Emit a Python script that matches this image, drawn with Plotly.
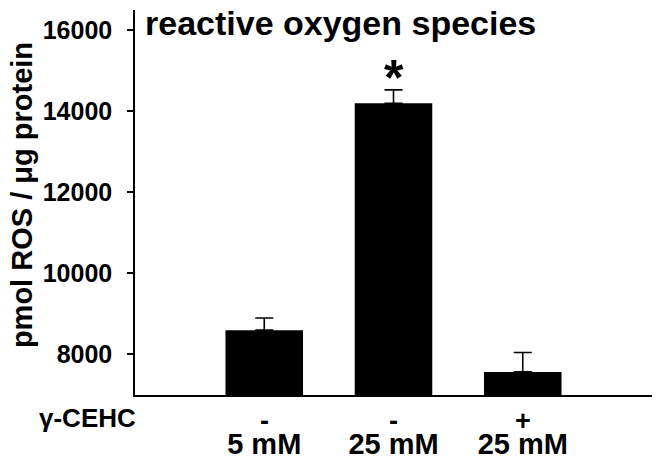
import plotly.graph_objects as go

conditions = ["5 mM", "25 mM", "25 mM"]
cehc = ["-", "-", "+"]
ros_mean = [8600, 14200, 7570]
ros_err = [300, 330, 480]
significance = ["", "*", ""]

xpos = list(range(len(conditions)))
FONT = "Liberation Sans, Arial, sans-serif"

fig = go.Figure()
fig.add_trace(go.Bar(
    x=xpos, y=ros_mean, base=0, width=0.6,
    marker=dict(color="black", line=dict(width=0)),
    error_y=dict(type="data", array=ros_err, arrayminus=[0]*len(ros_err),
                 symmetric=False, color="black", thickness=1.6, width=9),
    showlegend=False, hoverinfo="skip",
))

fig.update_layout(
    width=660, height=468,
    margin=dict(l=135, r=8, t=10, b=73),
    plot_bgcolor="white", paper_bgcolor="white",
    font=dict(family=FONT, color="black"),
    bargap=0.4,
)
fig.update_xaxes(
    range=[-1, 3], tickvals=xpos, ticktext=[f"<b>{c}</b>" for c in conditions],
    tickfont=dict(size=29, family=FONT), ticks="", showline=True,
    linecolor="black", linewidth=1.5, showgrid=False, zeroline=False,
    ticklabelstandoff=22, automargin=False,
)
fig.update_yaxes(
    range=[7000, 16500], tickvals=[8000, 10000, 12000, 14000, 16000],
    ticktext=["<b>8000</b>", "<b>10000</b>", "<b>12000</b>", "<b>14000</b>", "<b>16000</b>"],
    tickfont=dict(size=25, family=FONT), ticks="outside", ticklen=6,
    tickwidth=1.5, tickcolor="black", showline=True, linecolor="black",
    linewidth=1.5, showgrid=False, zeroline=False, ticklabelstandoff=10,
    automargin=False,
)

fig.add_annotation(x=-0.218, y=0.52, xref="paper", yref="paper",
                   text="<b>pmol ROS / μg protein</b>", textangle=-90, showarrow=False,
                   font=dict(size=29, family=FONT), xanchor="center", yanchor="middle")

for x, s in zip(xpos, cehc):
    fig.add_annotation(x=x, y=-0.068, xref="x", yref="paper", text=f"<b>{s}</b>",
                       showarrow=False, font=dict(size=27, family=FONT), yanchor="middle")
fig.add_annotation(x=0.006, y=-0.0597, xref="paper", yref="paper", text="<b>γ-CEHC</b>",
                   showarrow=False, font=dict(size=26, family=FONT), xanchor="right", yanchor="middle")

for x, m, e, s in zip(xpos, ros_mean, ros_err, significance):
    if s:
        fig.add_annotation(x=x, y=m + e, xref="x", yref="y", text=f"<b>{s}</b>",
                           showarrow=False, font=dict(size=50, family=FONT),
                           yanchor="bottom", yshift=-18)

fig.add_annotation(x=0.015, y=0.965, xref="paper", yref="paper",
                   text="<b>reactive oxygen species</b>", showarrow=False,
                   font=dict(size=34, family=FONT), xanchor="left", yanchor="middle")

fig.write_html("out.html", config={"displayModeBar": False},
               post_script="document.body.style.margin='0';")
